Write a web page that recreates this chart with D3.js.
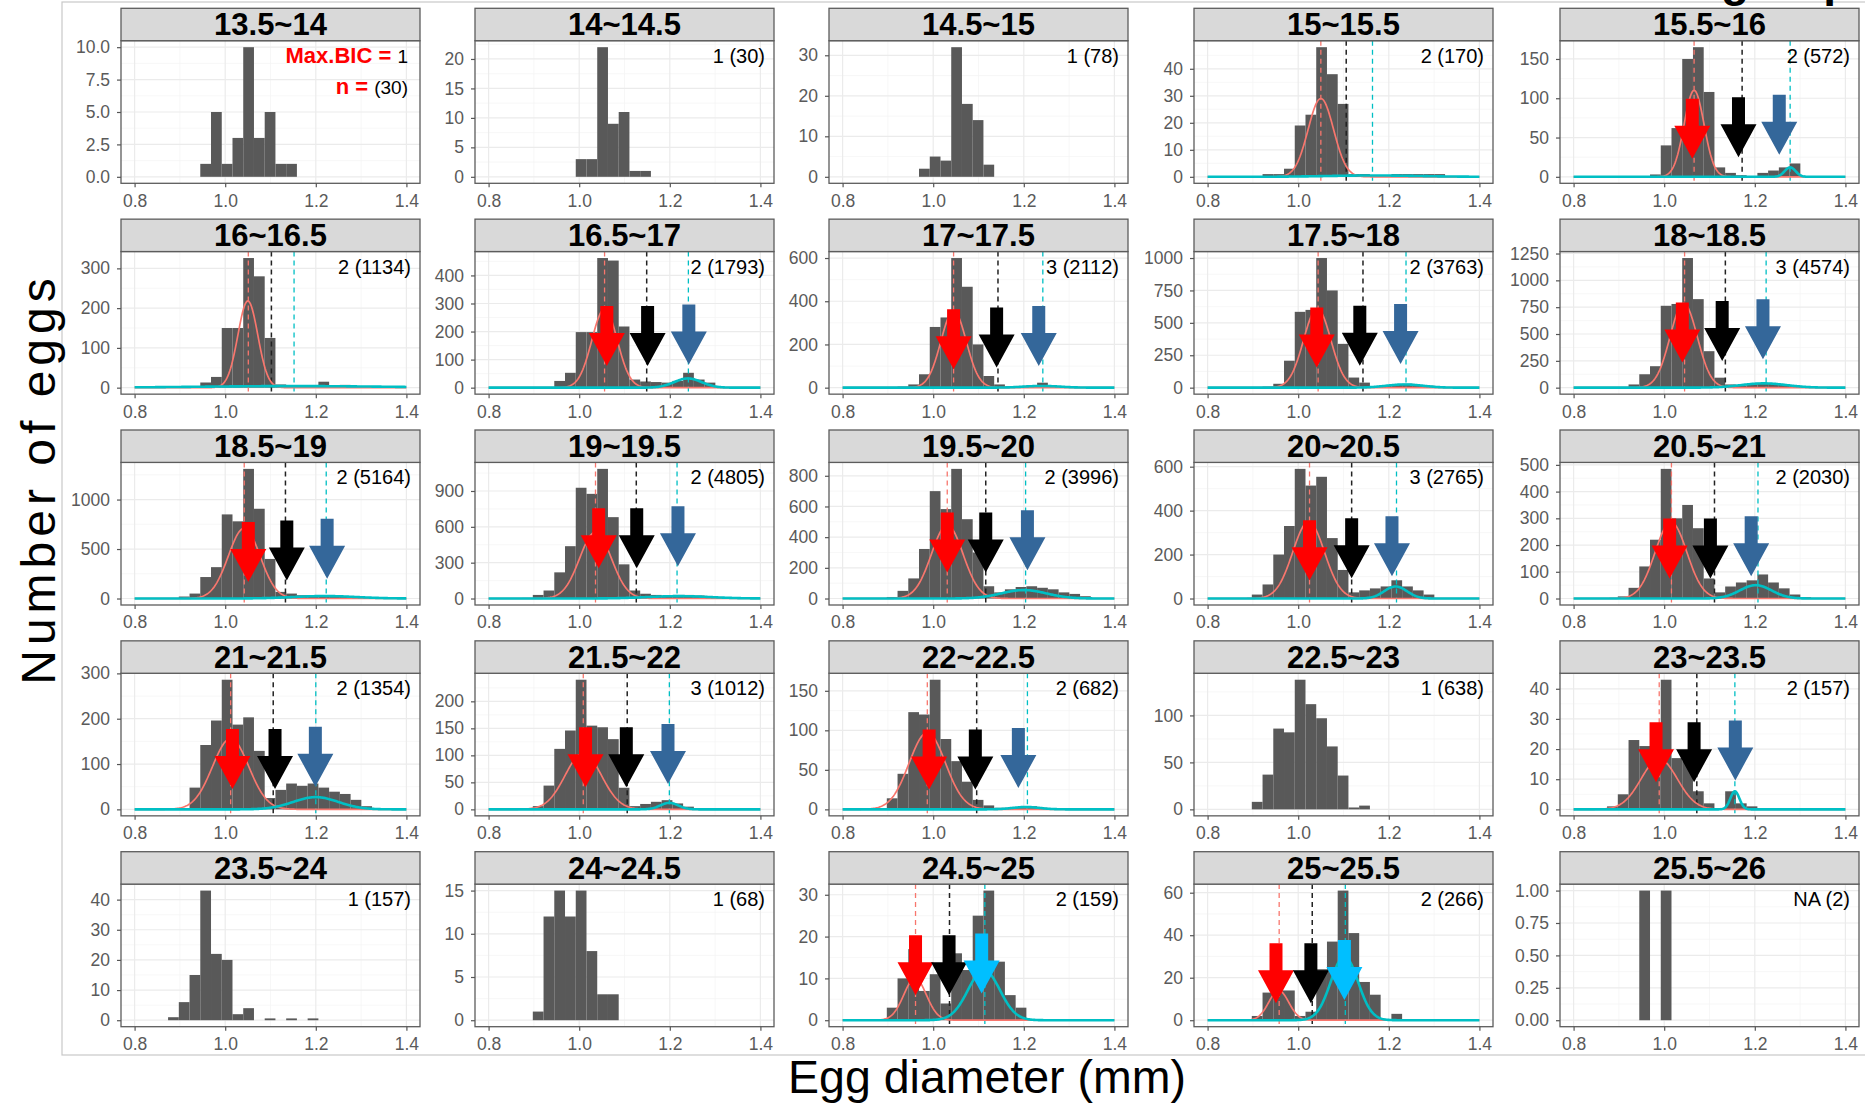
<!DOCTYPE html>
<html>
<head>
<meta charset="utf-8">
<script src="https://cdn.jsdelivr.net/npm/d3@7"></script>
<style>
body { margin: 0; background: #fff; }
svg { display: block; font-family: "Liberation Sans", Arial, sans-serif; }
</style>
</head>
<body>
<svg id="chart" width="1865" height="1109"></svg>
<script>
// facet titles (female length class) and the "components (n)" labels
var titles = ["13.5~14", "14~14.5", "14.5~15", "15~15.5", "15.5~16",
	"16~16.5", "16.5~17", "17~17.5", "17.5~18", "18~18.5",
	"18.5~19", "19~19.5", "19.5~20", "20~20.5", "20.5~21",
	"21~21.5", "21.5~22", "22~22.5", "22.5~23", "23~23.5",
	"23.5~24", "24~24.5", "24.5~25", "25~25.5", "25.5~26"];

var nLabels = [null, "1 (30)", "1 (78)", "2 (170)", "2 (572)",
	"2 (1134)", "2 (1793)", "3 (2112)", "2 (3763)", "3 (4574)",
	"2 (5164)", "2 (4805)", "2 (3996)", "3 (2765)", "2 (2030)",
	"2 (1354)", "3 (1012)", "2 (682)", "1 (638)", "2 (157)",
	"1 (157)", "1 (68)", "2 (159)", "2 (266)", "NA (2)"];

var yTickLabels = [
	["0.0", "2.5", "5.0", "7.5", "10.0"], ["0", "5", "10", "15", "20"], ["0", "10", "20", "30"], ["0", "10", "20", "30", "40"], ["0", "50", "100", "150"],
	["0", "100", "200", "300"], ["0", "100", "200", "300", "400"], ["0", "200", "400", "600"], ["0", "250", "500", "750", "1000"], ["0", "250", "500", "750", "1000", "1250"],
	["0", "500", "1000"], ["0", "300", "600", "900"], ["0", "200", "400", "600", "800"], ["0", "200", "400", "600"], ["0", "100", "200", "300", "400", "500"],
	["0", "100", "200", "300"], ["0", "50", "100", "150", "200"], ["0", "50", "100", "150"], ["0", "50", "100"], ["0", "10", "20", "30", "40"],
	["0", "10", "20", "30", "40"], ["0", "5", "10", "15"], ["0", "10", "20", "30"], ["0", "20", "40", "60"], ["0.00", "0.25", "0.50", "0.75", "1.00"]
];
var xTicks = [0.8, 1.0, 1.2, 1.4];

// histogram: bins of equal width, counts start at bin index binStart[p]
var binOrigin = 0.9213;
var binWidth = 0.0237;
var binStart = [1, 3, 2, 0, 2,
	0, 1, 0, 0, 0,
	-2, -2, -1, -1, -1,
	0, -1, -1, -1, -2,
	-2, -1, -1, -1, 1];

var counts = [
	[1, 5, 1, 3, 10, 3, 5, 1, 1],
	[3, 3, 22, 9, 11, 1, 1],
	[2, 5, 4, 32, 18, 14, 3],
	[1, 1, 3, 19, 23, 48, 38, 27, 1, 1, 0, 0, 1, 1, 1, 1, 1],
	[3, 40, 62, 150, 165, 108, 12, 5, 2, 0, 5, 8, 12, 17],
	[3, 13, 27, 150, 150, 326, 280, 125, 8, 3, 0, 3, 15, 3, 7, 2],
	[24, 53, 198, 198, 462, 453, 218, 29, 22, 20, 18, 24, 53, 29, 18],
	[5, 15, 62, 281, 325, 600, 467, 200, 54, 15, 6, 8, 12, 23, 8, 6, 4],
	[8, 30, 208, 585, 600, 1000, 750, 338, 78, 39, 12, 15, 25, 30, 20, 15, 5],
	[30, 125, 200, 763, 780, 1208, 825, 340, 93, 30, 20, 35, 45, 40, 30, 20, 10, 5],
	[5, 20, 50, 217, 317, 850, 780, 1310, 907, 400, 67, 50, 33, 20, 25, 30, 25, 20, 15, 10, 5],
	[5, 30, 67, 219, 438, 927, 876, 1085, 681, 286, 67, 40, 30, 25, 30, 30, 25, 20, 12, 8],
	[10, 50, 131, 323, 700, 583, 845, 517, 300, 80, 40, 60, 75, 80, 70, 60, 40, 30, 15],
	[18, 64, 200, 330, 590, 514, 554, 275, 130, 28, 37, 46, 55, 83, 55, 37, 18],
	[8, 40, 120, 220, 485, 300, 350, 263, 75, 23, 45, 60, 68, 90, 60, 38, 15, 5],
	[48, 142, 196, 286, 187, 203, 129, 25, 43, 57, 52, 57, 48, 39, 34, 21, 7],
	[6, 44, 112, 146, 240, 155, 152, 130, 40, 6, 10, 14, 17, 11, 5],
	[14, 45, 123, 120, 164, 89, 61, 35, 12, 5, 2, 2, 3, 4, 2],
	[8, 37, 86, 82, 138, 112, 97, 67, 36, 2, 4],
	[1, 5, 23, 21, 25, 43, 17, 16, 6, 2, 0, 6, 2, 1],
	[1, 6, 15, 43, 22, 20, 2, 4, 0, 0.6, 0, 0.6, 0, 0.6],
	[1, 12, 15, 12, 15, 8, 3, 3],
	[3, 10, 17, 7, 11, 4, 16, 12, 25, 31, 14, 6, 3],
	[2, 13, 14, 14, 2, 4, 24, 37, 61, 41, 18, 12, 0, 3],
	[1, 0, 1]
];

// fitted normal components: [mean, sd, peak count]
var comp1 = [null, null, null, [1.05, 0.028, 29], [1.066, 0.022, 110],
	[1.05, 0.022, 218], [1.056, 0.028, 280], [1.045, 0.028, 355], [1.042, 0.03, 610], [1.043, 0.03, 785],
	[1.042, 0.035, 710], [1.036, 0.035, 556], [1.031, 0.035, 477], [1.023, 0.035, 349], [1.015, 0.035, 286],
	[1.012, 0.04, 156], [1.009, 0.04, 104], [0.987, 0.04, 97], null, [0.989, 0.04, 16.7],
	null, null, [0.96, 0.025, 10], [0.957, 0.022, 14], null];
var comp2 = [null, null, null, [1.165, 0.1, 0.5], [1.278, 0.012, 12],
	[1.15, 0.2, 4], [1.24, 0.03, 33], [1.24, 0.04, 8], [1.235, 0.04, 25], [1.22, 0.05, 40],
	[1.22, 0.07, 25], [1.22, 0.07, 20], [1.2, 0.05, 55], [1.215, 0.025, 55], [1.202, 0.035, 50],
	[1.2, 0.05, 27], [1.199, 0.02, 12], [1.205, 0.03, 3], null, [1.156, 0.01, 6],
	null, null, [1.112, 0.035, 12], [1.102, 0.03, 30], null];

// dashed lines: [mean 1, cut point, mean 2]
var cutLines = [null, null, null, [1.05, 1.106, 1.164], [1.066, 1.172, 1.278],
	[1.051, 1.102, 1.152], [1.056, 1.149, 1.241], [1.045, 1.143, 1.242], [1.044, 1.143, 1.238], [1.045, 1.135, 1.225],
	[1.042, 1.133, 1.223], [1.036, 1.126, 1.216], [1.031, 1.116, 1.204], [1.025, 1.118, 1.217], [1.016, 1.111, 1.207],
	[1.012, 1.106, 1.2], [1.009, 1.106, 1.199], [0.987, 1.096, 1.208], null, [0.989, 1.072, 1.156],
	null, null, [0.961, 1.036, 1.114], [0.958, 1.031, 1.104], null];

// arrows: where they point (x) and the count level of the tip
var arrowX = [null, null, null, null, [1.062, 1.164, 1.254],
	null, [1.061, 1.151, 1.242], [1.045, 1.14, 1.233], [1.041, 1.136, 1.226], [1.04, 1.128, 1.218],
	[1.051, 1.136, 1.225], [1.043, 1.127, 1.218], [1.031, 1.116, 1.208], [1.025, 1.118, 1.207], [1.012, 1.102, 1.192],
	[1.016, 1.11, 1.199], [1.014, 1.104, 1.196], [0.991, 1.093, 1.188], null, [0.982, 1.066, 1.157],
	null, null, [0.961, 1.035, 1.107], [0.951, 1.028, 1.102], null];
var arrowTip = [null, null, null, null, [23, 25, 28],
	null, [77, 77, 83], [85, 93, 100], [156, 169, 182], [234, 249, 265],
	[167, 183, 200], [253, 253, 270], [170, 170, 184], [83, 92, 101], [75, 75, 83],
	[45, 45, 50], [41, 41, 47], [25, 25, 27], null, [9, 9, 9.6],
	null, null, [6, 6, 6.4], [8, 8, 9.5], null];
var arrowColors = ["#FF0000", "#000000", "#34679A"];
var arrowColorsLate = ["#FF0000", "#000000", "#00BFFF"]; // last two fitted panels

// layout
const colLeft = [121, 475, 829, 1194, 1560];
const panelW = 299, stripH = 32.4, plotH = 142.6;
const rowTop = r => 8.3 + r * 210.85;
const gridCol = "#EBEBEB", borderCol = "#5c5c5c", tickText = "#5a5a5a";

const svg = d3.select("#chart");
svg.append("rect").attr("width", 1865).attr("height", 1109).attr("fill", "#fff");

// light frame round the figure and a heading clipped at the top edge (as in the source image)
svg.append("rect")
	.attr("x", 62).attr("y", 2).attr("width", 1810).attr("height", 1053)
	.attr("fill", "none").attr("stroke", "#c8c8c8").attr("stroke-width", 1.2);
svg.append("text")
	.attr("x", 1721).attr("y", -4)
	.attr("font-size", 46).attr("font-weight", "bold")
	.text("group");

const curveXs = d3.range(0.8, 1.4001, 0.002);

titles.forEach(function (title, p) {
	const col = p % 5, row = Math.floor(p / 5);
	const left = colLeft[col], right = left + panelW;
	const sTop = rowTop(row), top = sTop + stripH, bottom = top + plotH;
	const ymax = d3.max(counts[p]);
	const x = d3.scaleLinear().domain([0.77, 1.43]).range([left, right]);
	const y = d3.scaleLinear().domain([-0.05 * ymax, 1.05 * ymax]).range([bottom, top]);
	const yTicks = yTickLabels[p].map(Number);

	const g = svg.append("g");
	const clipId = "clip" + p;
	g.append("clipPath").attr("id", clipId)
		.append("rect").attr("x", left).attr("y", top).attr("width", panelW).attr("height", plotH);

	g.append("rect").attr("x", left).attr("y", top).attr("width", panelW).attr("height", plotH).attr("fill", "#fff");

	// minor grid
	const step = yTicks[1] - yTicks[0];
	let yMinor = [];
	for (let k = -1; k < yTicks.length; ++k) {
		const v = yTicks[0] + step * (k + 0.5);
		if (v > y.domain()[0] && v < y.domain()[1]) yMinor.push(v);
	}
	const grid = g.append("g").attr("clip-path", `url(#${clipId})`);
	grid.selectAll(".vmin").data([0.9, 1.1, 1.3]).join("line")
		.attr("x1", d => x(d)).attr("x2", d => x(d)).attr("y1", top).attr("y2", bottom)
		.attr("stroke", "#F3F3F3").attr("stroke-width", 0.7);
	grid.selectAll(".hmin").data(yMinor).join("line")
		.attr("x1", left).attr("x2", right).attr("y1", d => y(d)).attr("y2", d => y(d))
		.attr("stroke", "#F3F3F3").attr("stroke-width", 0.7);
	grid.selectAll(".vmaj").data(xTicks).join("line")
		.attr("x1", d => x(d)).attr("x2", d => x(d)).attr("y1", top).attr("y2", bottom)
		.attr("stroke", gridCol).attr("stroke-width", 1.2);
	grid.selectAll(".hmaj").data(yTicks).join("line")
		.attr("x1", left).attr("x2", right).attr("y1", d => y(d)).attr("y2", d => y(d))
		.attr("stroke", gridCol).attr("stroke-width", 1.2);

	// histogram bars
	const bins = counts[p].map((c, k) => ({lo: binOrigin + binWidth * (binStart[p] + k), c: c}))
		.filter(b => b.c > 0);
	g.append("g").selectAll("rect").data(bins).join("rect")
		.attr("x", b => x(b.lo))
		.attr("width", b => x(b.lo + binWidth) - x(b.lo))
		.attr("y", b => y(b.c))
		.attr("height", b => y(0) - y(b.c))
		.attr("fill", "#595959");

	// dashed lines at the two means and the cut point
	if (cutLines[p]) {
		const dashCols = ["#F8766D", "#222", "#00BFC4"];
		g.append("g").selectAll("line").data(cutLines[p]).join("line")
			.attr("x1", d => x(d)).attr("x2", d => x(d)).attr("y1", top).attr("y2", bottom)
			.attr("stroke", (d, i) => dashCols[i])
			.attr("stroke-width", (d, i) => i == 1 ? 1.5 : 1.3)
			.attr("stroke-dasharray", "5,4");
	}

	// fitted component curves
	const line = d3.line().x(d => x(d[0])).y(d => y(d[1]));
	[[comp1[p], "#F8766D", 1.7], [comp2[p], "#00BFC4", 2.6]].forEach(function ([c, colr, w]) {
		if (!c) return;
		const pts = curveXs.map(v => [v, c[2] * Math.exp(-0.5 * Math.pow((v - c[0]) / c[1], 2))]);
		g.append("path").datum(pts)
			.attr("d", line).attr("fill", "none")
			.attr("stroke", colr).attr("stroke-width", w)
			.attr("clip-path", `url(#${clipId})`);
	});

	// border and strip
	g.append("rect").attr("x", left).attr("y", top).attr("width", panelW).attr("height", plotH)
		.attr("fill", "none").attr("stroke", borderCol).attr("stroke-width", 1.3);
	g.append("rect").attr("x", left).attr("y", sTop).attr("width", panelW).attr("height", stripH)
		.attr("fill", "#D9D9D9").attr("stroke", borderCol).attr("stroke-width", 1.3);
	g.append("text")
		.attr("x", left + panelW / 2).attr("y", sTop + 27)
		.attr("text-anchor", "middle")
		.attr("font-size", 31).attr("font-weight", "bold")
		.text(title);

	// axes
	const yAxis = d3.axisLeft(y).tickValues(yTicks)
		.tickFormat((d, i) => yTickLabels[p][i])
		.tickSize(4).tickPadding(7).tickSizeOuter(0);
	const xAxis = d3.axisBottom(x).tickValues(xTicks)
		.tickFormat(d3.format(".1f"))
		.tickSize(4).tickPadding(7).tickSizeOuter(0);
	[[yAxis, `translate(${left},0)`], [xAxis, `translate(0,${bottom})`]].forEach(function ([ax, tr]) {
		const a = g.append("g").attr("transform", tr).call(ax)
			.attr("font-size", null).attr("font-family", null);
		a.select(".domain").remove();
		a.selectAll("line").attr("stroke", "#555").attr("stroke-width", 1.2);
		a.selectAll("text").attr("font-size", 17.5).attr("fill", tickText);
	});

	// "components (n)" label
	if (p == 0) {
		const t1 = g.append("text").attr("x", right - 12).attr("y", top + 22).attr("text-anchor", "end");
		t1.append("tspan").attr("fill", "#FF0000").attr("font-weight", "bold").attr("font-size", 22).text("Max.BIC = ");
		t1.append("tspan").attr("font-size", 19).text("1");
		const t2 = g.append("text").attr("x", right - 12).attr("y", top + 53).attr("text-anchor", "end");
		t2.append("tspan").attr("fill", "#FF0000").attr("font-weight", "bold").attr("font-size", 22).text("n = ");
		t2.append("tspan").attr("font-size", 19).text("(30)");
	} else {
		g.append("text").attr("x", right - 9).attr("y", top + 22)
			.attr("text-anchor", "end").attr("font-size", 20)
			.text(nLabels[p]);
	}

	// block arrows
	if (arrowX[p]) {
		const cols = p >= 22 ? arrowColorsLate : arrowColors;
		arrowX[p].forEach(function (ax, i) {
			const tx = x(ax), ty = y(arrowTip[p][i]);
			const pts = [[tx - 6.5, ty - 60], [tx + 6.5, ty - 60], [tx + 6.5, ty - 33], [tx + 18, ty - 33],
				[tx, ty], [tx - 18, ty - 33], [tx - 6.5, ty - 33]];
			g.append("polygon").attr("points", pts.map(q => q.join(",")).join(" ")).attr("fill", cols[i]);
		});
	}
});

// axis titles
svg.append("text")
	.attr("transform", "translate(55,479) rotate(-90)")
	.attr("text-anchor", "middle")
	.attr("font-size", 48).attr("letter-spacing", 5)
	.text("Number of eggs");
svg.append("text")
	.attr("x", 987).attr("y", 1093)
	.attr("text-anchor", "middle")
	.attr("font-size", 46.5)
	.text("Egg diameter (mm)");
</script>
</body>
</html>
